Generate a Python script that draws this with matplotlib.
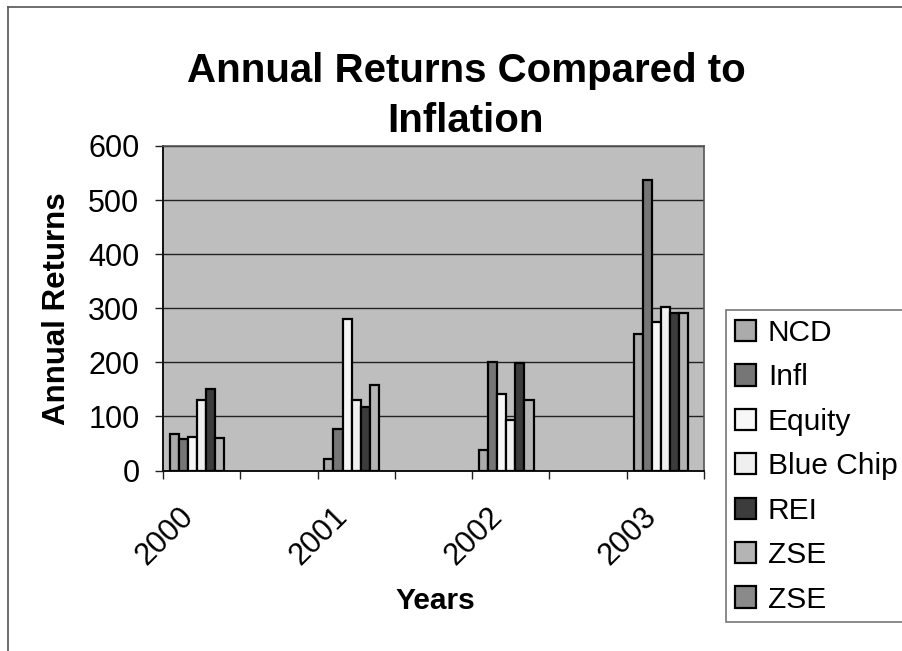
import numpy as np
import matplotlib
matplotlib.use("Agg")
import matplotlib.pyplot as plt
from matplotlib.lines import Line2D
from matplotlib.patches import Patch
from matplotlib.transforms import ScaledTranslation

plt.rcParams['font.family'] = ['Liberation Sans', 'DejaVu Sans']

# Category rows (blank rows separate the years)
categories = ["2000", "", "2001", "", "2002", "", "2003"]
series_names = ["NCD", "Infl", "Equity", "Blue Chip", "REI", "ZSE", "ZSE"]

ncd = [67, None, 21, None, 37, None, 252]
infl = [58, None, 77, None, 201, None, 538]
equity = [62, None, 280, None, 141, None, 275]
blue_chip = [130, None, 130, None, 93, None, 303]
rei = [151, None, 118, None, 198, None, 291]
zse = [61, None, 158, None, 130, None, 291]
zse_2 = [None, None, None, None, None, None, None]

series_values = [ncd, infl, equity, blue_chip, rei, zse, zse_2]
series_colors = ["#ababab", "#767676", "#f7f7f7", "#efefef", "#3c3c3c", "#b4b4b4", "#8a8a8a"]

W, H = 903, 651
fig = plt.figure(figsize=(W / 100, H / 100), dpi=100)
fig.patch.set_facecolor("white")

# plot area in pixel coordinates
left, right, top, bottom = 163, 704, 146, 470.5
ax = fig.add_axes([left / W, 1 - bottom / H, (right - left) / W, (bottom - top) / H])
ax.set_facecolor("#bebebe")

x = np.arange(len(categories))
n = len(series_names)
bw = 1.0 / (n + 1.5)
for i, (vals, col) in enumerate(zip(series_values, series_colors)):
    heights = np.array([np.nan if v is None else v for v in vals], dtype=float)
    ax.bar(x + (i - (n - 1) / 2) * bw, heights, bw, color=col,
           edgecolor="black", linewidth=1.6, zorder=3)

ax.set_xlim(-0.5, len(categories) - 0.5)
ax.set_ylim(0, 600)
ax.set_yticks(np.arange(0, 601, 100))
ax.yaxis.grid(True, color="#222222", linewidth=1.0, zorder=1)
ax.set_axisbelow(True)

ax.set_xticks(x)
ax.set_xticks(np.arange(-0.5, len(categories), 1.0), minor=True)
ax.tick_params(axis="x", which="major", length=0, pad=30)
ax.tick_params(axis="x", which="minor", length=6, width=1, direction="out", color="#222222")
ax.tick_params(axis="y", length=6, width=1, direction="out", pad=11,
               labelsize=22, color="#222222")
ax.set_xticklabels(categories, rotation=45, ha="right", va="center",
                   rotation_mode="anchor", fontsize=22)
# nudge the slanted year labels left so their ends sit under the bar groups
shift = ScaledTranslation(-13 / 100, 0, fig.dpi_scale_trans)
for lab in ax.get_xticklabels():
    lab.set_transform(lab.get_transform() + shift)

for side in ("top", "right"):
    ax.spines[side].set_color("#555555")
    ax.spines[side].set_linewidth(1.2)
for side in ("left", "bottom"):
    ax.spines[side].set_color("#111111")
    ax.spines[side].set_linewidth(1.4)

ax.set_ylabel("Annual Returns", fontsize=22.5, fontweight="bold", va="center")
ax.yaxis.set_label_coords((57 - left) / (right - left), 0.5)
ax.set_xlabel("Years", fontsize=21.5, fontweight="bold", va="center")
ax.xaxis.set_label_coords((435.5 - left) / (right - left), (bottom - 601) / (bottom - top))

fig.text(466 / W, 1 - 52 / H, "Annual Returns Compared to\nInflation",
         ha="center", va="top", fontsize=29, fontweight="bold", linespacing=1.41)

handles = [Patch(facecolor=c, edgecolor="black", linewidth=1.6, label=nm)
           for nm, c in zip(series_names, series_colors)]
leg = fig.legend(handles=handles, loc="upper left",
                 bbox_to_anchor=(726 / W, 1 - 310 / H), bbox_transform=fig.transFigure,
                 fontsize=21.5, frameon=True, fancybox=False, shadow=False,
                 borderpad=0.3, borderaxespad=0, handlelength=0.72, handleheight=0.72,
                 handletextpad=0.38, labelspacing=0.55)
leg.get_frame().set_edgecolor("#555555")
leg.get_frame().set_linewidth(1.2)

# chart area border (left and top edges)
fig.add_artist(Line2D([8 / W, 8 / W], [0, 1 - 7 / H], transform=fig.transFigure,
                      color="#555555", linewidth=1.2))
fig.add_artist(Line2D([8 / W, 1], [1 - 7 / H, 1 - 7 / H], transform=fig.transFigure,
                      color="#555555", linewidth=1.2))

fig.savefig("out.png", dpi=100)
